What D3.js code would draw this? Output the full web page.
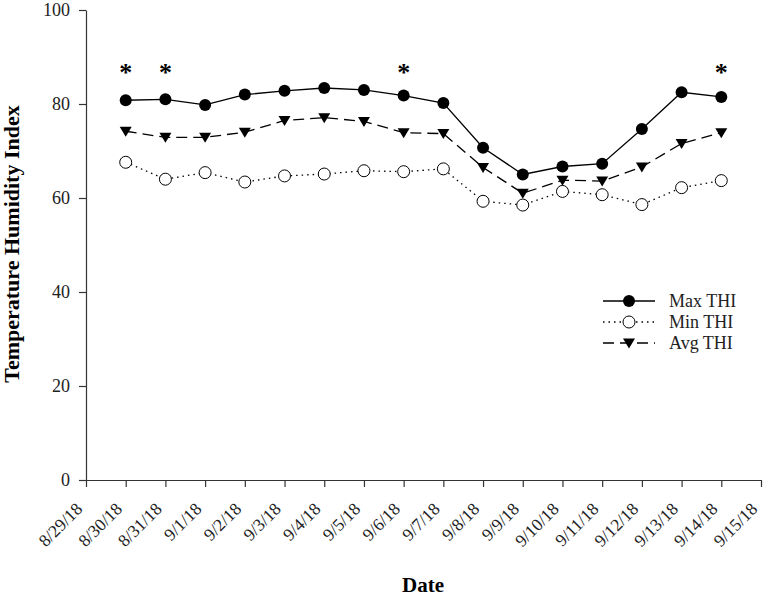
<!DOCTYPE html>
<html><head><meta charset="utf-8">
<script src="https://cdn.jsdelivr.net/npm/d3@7"></script>
<style>body{margin:0;background:#fff}svg{display:block}</style>
</head><body>
<svg id="c" width="764" height="598"></svg>
<script>
const tickDates = ["8/29/18","8/30/18","8/31/18","9/1/18","9/2/18","9/3/18","9/4/18","9/5/18","9/6/18","9/7/18","9/8/18","9/9/18","9/10/18","9/11/18","9/12/18","9/13/18","9/14/18","9/15/18"];
const dates = ["8/30/18","8/31/18","9/1/18","9/2/18","9/3/18","9/4/18","9/5/18","9/6/18","9/7/18","9/8/18","9/9/18","9/10/18","9/11/18","9/12/18","9/13/18","9/14/18"];
const maxTHI = [80.8,81.0,79.8,82.0,82.8,83.4,83.0,81.8,80.2,70.7,65.0,66.7,67.3,74.7,82.5,81.5];
const minTHI = [67.6,64.0,65.4,63.4,64.7,65.1,65.8,65.6,66.2,59.3,58.5,61.4,60.7,58.6,62.2,63.7];
const avgTHI = [74.2,72.9,72.9,74.0,76.5,77.1,76.3,73.9,73.7,66.5,61.0,63.8,63.6,66.6,71.6,73.9];
const yTicks = [0,20,40,60,80,100];
const starDates = ["8/30/18","8/31/18","9/6/18","9/14/18"];
const seriesNames = ["Max THI","Min THI","Avg THI"];

const svg = d3.select("#c");
const font = "'Liberation Serif','Times New Roman',serif";
const x = d3.scalePoint().domain(tickDates).range([86, 761]);
const y = d3.scaleLinear().domain([0,100]).range([480, 10]);

// axes
const ya = svg.append("g").attr("transform","translate(86,0)")
  .call(d3.axisLeft(y).tickValues(yTicks).tickSize(7).tickPadding(9).tickSizeOuter(0));
ya.selectAll("text").style("font-family",font).style("font-size","18px").attr("fill","#222");
const xa = svg.append("g").attr("transform","translate(0,480)")
  .call(d3.axisBottom(x).tickSize(7).tickSizeOuter(0));
xa.selectAll("text").style("font-family",font).style("font-size","17.5px").attr("fill","#222")
  .attr("text-anchor","end").attr("y",0).attr("dy","0").attr("dx","0")
  .attr("transform","translate(-3,30) rotate(-45)");
svg.selectAll(".domain, .tick line").attr("stroke","#333").attr("stroke-width",1.2);

const styles = [
  {data:maxTHI, dash:null, marker:"fc"},
  {data:minTHI, dash:"1.5,4", marker:"oc"},
  {data:avgTHI, dash:"11,6", marker:"tri"}
];
const line = d3.line().x((d,i)=>x(dates[i])).y(d=>y(d));
const tri = "M-6,-4.5 L6,-4.5 L0,5.5 Z";

function drawMarker(g, type, cx, cy){
  if(type==="fc") g.append("circle").attr("cx",cx).attr("cy",cy).attr("r",6).attr("fill","#000");
  else if(type==="oc") g.append("circle").attr("cx",cx).attr("cy",cy).attr("r",6).attr("fill","#fff").attr("stroke","#000").attr("stroke-width",1);
  else g.append("path").attr("d",tri).attr("transform",`translate(${cx},${cy})`).attr("fill","#000");
}

styles.forEach(s=>{
  svg.append("path").datum(s.data).attr("d",line).attr("fill","none")
    .attr("stroke","#000").attr("stroke-width",1.3).attr("stroke-dasharray",s.dash);
});
styles.forEach(s=>{
  const g = svg.append("g");
  s.data.forEach((d,i)=>drawMarker(g, s.marker, x(dates[i]), y(d)));
});

// asterisks
svg.selectAll(".star").data(starDates).enter().append("text")
  .attr("x",d=>x(d)).attr("y",81).attr("text-anchor","middle")
  .style("font-family",font).style("font-size","26px").style("font-weight","bold").text("*");

// legend
const lg = svg.append("g");
seriesNames.forEach((n,i)=>{
  const ly = 301 + i*21;
  lg.append("line").attr("x1",603).attr("x2",655).attr("y1",ly).attr("y2",ly)
    .attr("stroke","#000").attr("stroke-width",1.3).attr("stroke-dasharray",styles[i].dash);
  drawMarker(lg, styles[i].marker, 629, ly);
  lg.append("text").attr("x",669).attr("y",ly+5.5).style("font-family",font)
    .style("font-size","18px").attr("fill","#222").text(n);
});

// axis titles
svg.append("text").attr("transform","translate(19,244) rotate(-90)").attr("text-anchor","middle")
  .style("font-family",font).style("font-size","22px").style("font-weight","bold").text("Temperature Humidity Index");
svg.append("text").attr("x",423).attr("y",592).attr("text-anchor","middle")
  .style("font-family",font).style("font-size","21px").style("font-weight","bold").text("Date");
</script>
</body></html>
